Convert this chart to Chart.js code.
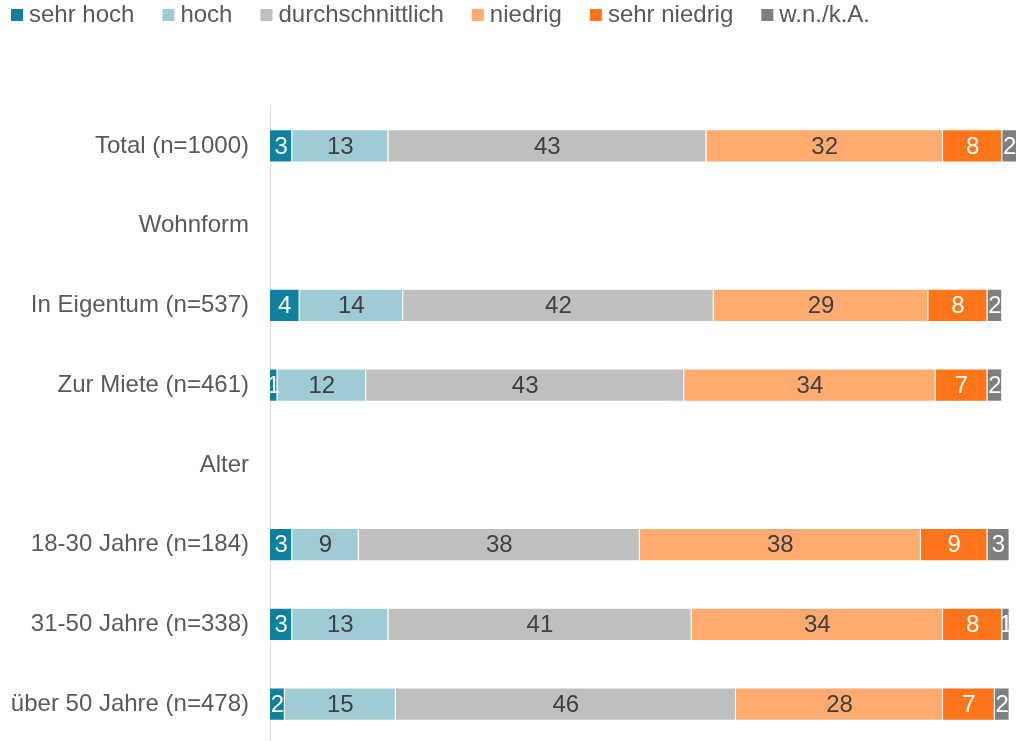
<!DOCTYPE html>
<html>
<head>
<meta charset="utf-8">
<script src="https://cdn.jsdelivr.net/npm/chart.js@4.4.0/dist/chart.umd.min.js"></script>
<style>
  html, body { margin: 0; padding: 0; background: #fff; overflow: hidden; }
  body { width: 1019px; height: 741px; position: relative; }
  #chart { position: absolute; left: 0; top: 0; }
</style>
</head>
<body>
<canvas id="chart" width="1019" height="744"></canvas>
<script>
// Rows of the chart; the two header rows have no bars.
var categories = [
  'Total (n=1000)', 'Wohnform', 'In Eigentum (n=537)', 'Zur Miete (n=461)',
  'Alter', '18-30 Jahre (n=184)', '31-50 Jahre (n=338)', 'über 50 Jahre (n=478)'
];
var seriesNames = ['sehr hoch', 'hoch', 'durchschnittlich', 'niedrig', 'sehr niedrig', 'w.n./k.A.'];

var sehrHoch         = [3, null, 4, 1, null, 3, 3, 2];
var hoch             = [13, null, 14, 12, null, 9, 13, 15];
var durchschnittlich = [43, null, 42, 43, null, 38, 41, 46];
var niedrig          = [32, null, 29, 34, null, 38, 34, 28];
var sehrNiedrig      = [8, null, 8, 7, null, 9, 8, 7];
var keineAngabe      = [2, null, 2, 2, null, 3, 1, 2];

var colors = ['#10809F', '#9FCBD5', '#BFBFBF', '#FFAA6F', '#FF7519', '#7F7F7F'];
var labelColors = ['#ffffff', '#404040', '#404040', '#404040', '#ffffff', '#ffffff'];

var FONT = 'Arial, "Liberation Sans", sans-serif';

var values = [sehrHoch, hoch, durchschnittlich, niedrig, sehrNiedrig, keineAngabe];
var datasets = values.map(function(v, i) {
  return {
    label: seriesNames[i],
    data: v,
    backgroundColor: colors[i],
    borderColor: '#ffffff',
    borderWidth: 1,
    barPercentage: 0.42,
    categoryPercentage: 1.0
  };
});

// Legend row at the top-left, drawn by hand so the spacing matches.
var topLegend = {
  id: 'topLegend',
  afterDraw: function(chart) {
    var ctx = chart.ctx;
    ctx.save();
    ctx.font = '24px ' + FONT;
    ctx.textAlign = 'left';
    ctx.textBaseline = 'middle';
    var x = 11;
    chart.data.datasets.forEach(function(ds) {
      ctx.fillStyle = ds.backgroundColor;
      ctx.fillRect(x, 9, 12, 12);
      ctx.fillStyle = '#595959';
      ctx.fillText(ds.label, x + 18, 15);
      x += 18 + ctx.measureText(ds.label).width + 28;
    });
    ctx.restore();
  }
};

// Draws the value in the middle of each bar segment.
var barValues = {
  id: 'barValues',
  afterDatasetsDraw: function(chart) {
    var ctx = chart.ctx;
    ctx.save();
    ctx.font = '24px ' + FONT;
    ctx.textAlign = 'center';
    ctx.textBaseline = 'middle';
    chart.data.datasets.forEach(function(ds, i) {
      var meta = chart.getDatasetMeta(i);
      meta.data.forEach(function(bar, j) {
        var v = ds.data[j];
        if (v === null || v === undefined) return;
        ctx.fillStyle = labelColors[i];
        ctx.fillText(String(v), (bar.base + bar.x) / 2, bar.y + 1);
      });
    });
    ctx.restore();
  }
};

new Chart(document.getElementById('chart'), {
  type: 'bar',
  data: { labels: categories, datasets: datasets },
  options: {
    indexAxis: 'y',
    responsive: false,
    animation: false,
    devicePixelRatio: 1,
    layout: { padding: { left: 0, right: 2, top: 106, bottom: 0 } },
    plugins: {
      legend: { display: false },
      tooltip: { enabled: false }
    },
    scales: {
      x: {
        stacked: true,
        display: false,
        min: 0,
        max: 101
      },
      y: {
        stacked: true,
        grid: { display: false, drawTicks: false },
        border: { display: true, color: '#D9D9D9', width: 1 },
        ticks: {
          padding: 21,
          color: '#595959',
          font: { family: FONT, size: 24 }
        },
        afterFit: function(scale) {
          scale.width = 270;
          scale.paddingTop = 0;
          scale.paddingBottom = 0;
        }
      }
    }
  },
  plugins: [topLegend, barValues]
});
</script>
</body>
</html>
